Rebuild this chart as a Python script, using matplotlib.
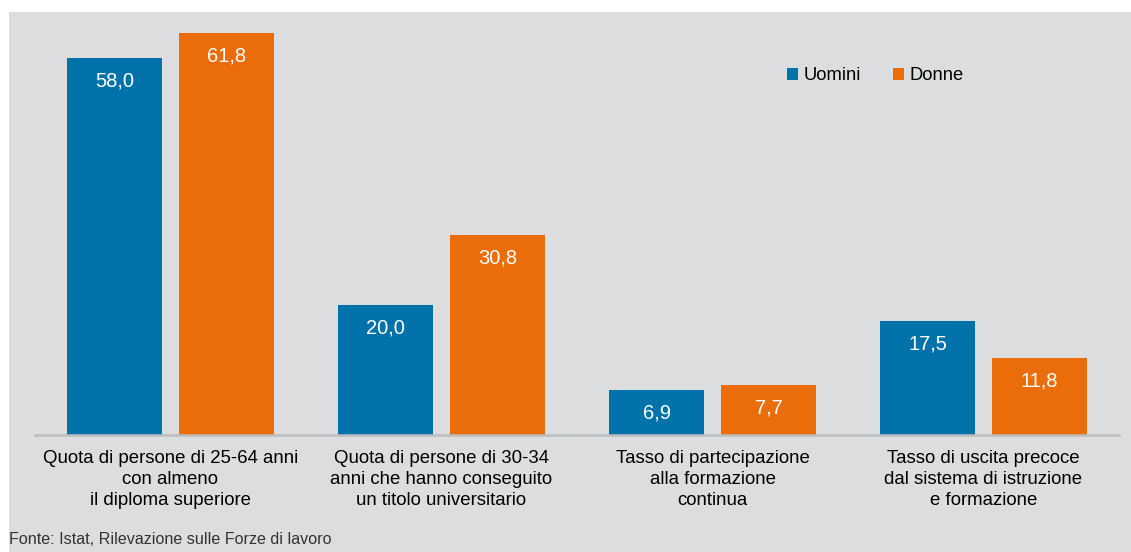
import matplotlib.pyplot as plt
import numpy as np

categories = [
    "Quota di persone di 25-64 anni\ncon almeno\nil diploma superiore",
    "Quota di persone di 30-34\nanni che hanno conseguito\nun titolo universitario",
    "Tasso di partecipazione\nalla formazione\ncontinua",
    "Tasso di uscita precoce\ndal sistema di istruzione\ne formazione",
]
uomini = [58.0, 20.0, 6.9, 17.5]
donne = [61.8, 30.8, 7.7, 11.8]
series_names = ["Uomini", "Donne"]
source_note = "Fonte: Istat, Rilevazione sulle Forze di lavoro"

BLUE = "#0072aa"
ORANGE = "#ea6d0a"
BG = "#dcdddf"
FONT = ["Liberation Sans", "DejaVu Sans"]

plt.rcParams["font.family"] = FONT

W, H = 1131, 552
fig = plt.figure(figsize=(W / 100, H / 100), dpi=100)
fig.patch.set_facecolor("white")

# gray panel behind everything
fig.patches.append(plt.Rectangle((9 / W, 0), 1 - 9 / W, 1 - 12 / H,
                                 transform=fig.transFigure, facecolor=BG,
                                 edgecolor="none", zorder=-10))

ax = fig.add_axes([35 / W, (H - 435) / H, (1119 - 35) / W, (435 - 12) / H])
ax.set_facecolor("none")

x = np.arange(len(categories))
bw = 0.347
off = 0.2066
b1 = ax.bar(x - off, uomini, bw, color=BLUE, label=series_names[0], zorder=2)
b2 = ax.bar(x + off, donne, bw, color=ORANGE, label=series_names[1], zorder=2)

for bars, vals in ((b1, uomini), (b2, donne)):
    for rect, v in zip(bars, vals):
        ax.annotate(f"{v:.1f}".replace(".", ","),
                    (rect.get_x() + rect.get_width() / 2, v),
                    xytext=(0, -16.5), textcoords="offset points",
                    ha="center", va="center", color="white", fontsize=14.5, zorder=3)

ax.set_xlim(-0.5, 3.5)
ax.set_ylim(0, 65.1)
ax.set_yticks([])
ax.set_xticks(x)
ax.set_xticklabels(categories, fontsize=13.4, linespacing=1.28)
ax.tick_params(axis="x", length=0, pad=11)
for s in ["top", "right", "left"]:
    ax.spines[s].set_visible(False)
ax.spines["bottom"].set_color("#bdbdbd")
ax.spines["bottom"].set_linewidth(1.8)

ax.legend(loc="upper left", bbox_to_anchor=((780 - 35) / (1119 - 35), (435 - 60) / (435 - 12)),
          ncol=2, frameon=False, fontsize=13.2, handlelength=0.6, handleheight=0.6,
          handletextpad=0.3, columnspacing=1.75, borderaxespad=0)

fig.text(9 / W, (H - 540) / H, source_note, fontsize=11.6, va="center", ha="left",
         color="#333333", family=["Liberation Sans Narrow", "Liberation Sans", "DejaVu Sans"])

fig.savefig("out.png", dpi=100)
